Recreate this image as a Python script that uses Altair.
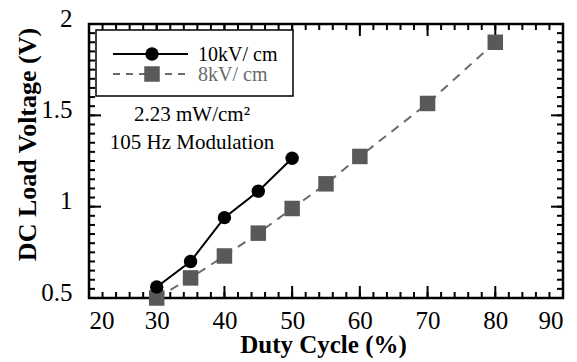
import altair as alt
import pandas as pd

# ---- data ----
duty_10 = [30, 35, 40, 45, 50]
volt_10 = [0.56, 0.70, 0.94, 1.085, 1.265]
duty_8 = [30, 35, 40, 45, 50, 55, 60, 70, 80]
volt_8 = [0.50, 0.61, 0.73, 0.855, 0.99, 1.125, 1.275, 1.565, 1.90]
series_names = ["10kV/ cm", "8kV/ cm"]
note_lines = ["2.23 mW/cm²", "105 Hz Modulation"]

x_major = [20, 30, 40, 50, 60, 70, 80, 90]
x_minor = [v for v in range(20, 91, 2)]
y_major = [0.5, 1.0, 1.5, 2.0]
y_minor = [round(0.5 + 0.05 * i, 2) for i in range(31)]

W, H = 474, 274
FONT = "Liberation Serif"
GRAY = "#595959"
DASHGRAY = "#6a6a6a"

xs = alt.Scale(domain=[20, 90], nice=False, zero=False)
ys = alt.Scale(domain=[0.5, 2.0], nice=False, zero=False)

df10 = pd.DataFrame({"duty": duty_10, "volt": volt_10})
df8 = pd.DataFrame({"duty": duty_8, "volt": volt_8})

x_axis = alt.Axis(values=x_major, title="Duty Cycle (%)", ticks=False, tickSize=0,
                  domain=False, grid=False, labelFont=FONT, labelFontSize=25,
                  labelColor="black", labelPadding=30, labelBaseline="alphabetic",
                  titleFont=FONT, titleFontWeight="bold", titleFontSize=25,
                  titleColor="black", titleX=234, titleY=54, titleBaseline="alphabetic")
y_axis = alt.Axis(values=y_major, title="DC Load Voltage (V)", ticks=False, tickSize=0,
                  domain=False, grid=False, labelFont=FONT, labelFontSize=25,
                  labelColor="black", labelPadding=17, labelBaseline="alphabetic",
                  labelOffset=2, labelExpr="datum.value == 1 || datum.value == 2 ? format(datum.value, 'd') : format(datum.value, '.1f')",
                  titleFont=FONT, titleFontWeight="bold", titleFontSize=26,
                  titleColor="black", titleAngle=-90, titleX=-62, titleY=120,
                  titleAlign="center", titleBaseline="middle")


def X(field):
    return alt.X(field, scale=xs, axis=x_axis)


def Y(field):
    return alt.Y(field, scale=ys, axis=y_axis)


line10 = alt.Chart(df10).mark_line(color="black", strokeWidth=2).encode(
    x=X("duty:Q"), y=Y("volt:Q"))
pts10 = alt.Chart(df10).mark_point(filled=True, shape="circle", size=180, color="black", opacity=1).encode(
    x=X("duty:Q"), y=Y("volt:Q"))
line8 = alt.Chart(df8).mark_line(color=DASHGRAY, strokeWidth=2, strokeDash=[9, 7]).encode(
    x=X("duty:Q"), y=Y("volt:Q"))
pts8 = alt.Chart(df8).mark_point(filled=True, shape="square", size=240, color=GRAY, opacity=1).encode(
    x=X("duty:Q"), y=Y("volt:Q"))


def xticks(vals, length, top):
    d = pd.DataFrame({"duty": vals})
    y0, y1 = (0, length) if top else (H, H - length)
    return alt.Chart(d).mark_rule(color="black", strokeWidth=2).encode(
        x=X("duty:Q"), y=alt.value(y0), y2=alt.value(y1))


def yticks(vals, length, right):
    d = pd.DataFrame({"volt": vals})
    x0, x1 = (W, W - length) if right else (0, length)
    return alt.Chart(d).mark_rule(color="black", strokeWidth=2).encode(
        y=Y("volt:Q"), x=alt.value(x0), x2=alt.value(x1))


ticks = [xticks(x_minor, 6, False), xticks(x_major, 12, False),
         xticks(x_minor, 6, True), xticks(x_major, 12, True),
         yticks(y_minor, 6, False), yticks(y_major, 12, False),
         yticks(y_minor, 6, True), yticks(y_major, 12, True)]

one = pd.DataFrame({"k": [0]})
frame = alt.Chart(one).mark_rect(fill="transparent", stroke="black", strokeWidth=2.5).encode(
    x=alt.value(0), x2=alt.value(W), y=alt.value(0), y2=alt.value(H))

# ---- legend box (drawn manually) ----
leg_box = alt.Chart(one).mark_rect(fill="white", stroke="black", strokeWidth=1.5).encode(
    x=alt.value(7), x2=alt.value(204), y=alt.value(6), y2=alt.value(72))
leg_l1 = alt.Chart(one).mark_rule(color="black", strokeWidth=2).encode(
    x=alt.value(24), x2=alt.value(99), y=alt.value(30))
leg_p1 = alt.Chart(one).mark_point(filled=True, shape="circle", size=180, color="black", opacity=1).encode(
    x=alt.value(63), y=alt.value(30))
leg_t1 = alt.Chart(pd.DataFrame({"t": [series_names[0]]})).mark_text(
    font=FONT, fontSize=20, align="left", baseline="middle", color="black").encode(
    x=alt.value(109), y=alt.value(31), text="t:N")
leg_l2 = alt.Chart(one).mark_rule(color=DASHGRAY, strokeWidth=2, strokeDash=[7, 6]).encode(
    x=alt.value(24), x2=alt.value(99), y=alt.value(50))
leg_p2 = alt.Chart(one).mark_point(filled=True, shape="square", size=240, color=GRAY, opacity=1).encode(
    x=alt.value(63), y=alt.value(50))
leg_t2 = alt.Chart(pd.DataFrame({"t": [series_names[1]]})).mark_text(
    font=FONT, fontSize=20, align="left", baseline="middle", color=DASHGRAY).encode(
    x=alt.value(109), y=alt.value(51), text="t:N")

note1 = alt.Chart(pd.DataFrame({"t": [note_lines[0]]})).mark_text(
    font=FONT, fontSize=21, align="center", baseline="alphabetic", color="black").encode(
    x=alt.value(103), y=alt.value(97), text="t:N")
note2 = alt.Chart(pd.DataFrame({"t": [note_lines[1]]})).mark_text(
    font=FONT, fontSize=21, align="center", baseline="alphabetic", color="black").encode(
    x=alt.value(103), y=alt.value(125), text="t:N")

chart = alt.layer(
    line10, line8, *ticks, frame, pts8, pts10,
    leg_box, leg_l1, leg_p1, leg_t1, leg_l2, leg_p2, leg_t2, note1, note2
).properties(
    width=W, height=H,
    autosize=alt.AutoSizeParams(type="none"),
    padding={"left": 81, "top": 16, "right": 6, "bottom": 60},
).configure_view(stroke=None).configure(background="white")

chart.save("out.html", embed_options={"renderer": "svg", "actions": False})
